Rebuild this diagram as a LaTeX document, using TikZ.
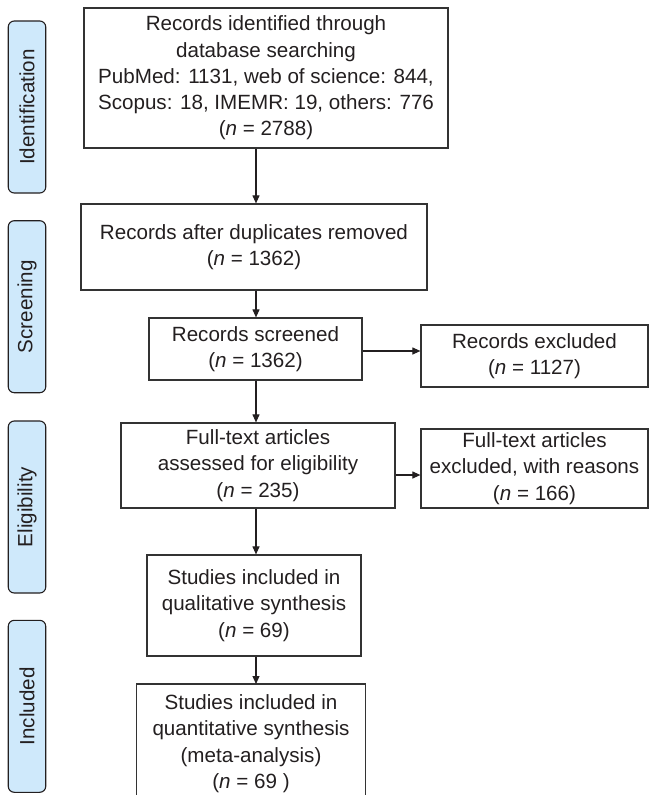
\documentclass[tikz,border=0pt]{standalone}
\usepackage{fontspec}
\setmainfont{Liberation Sans}
\usetikzlibrary{arrows.meta}
\definecolor{barfill}{HTML}{CFE9FB}
\definecolor{ink}{HTML}{231F20}
\definecolor{edge}{HTML}{333333}
\begin{document}
\begin{tikzpicture}[x=1pt,y=-1pt,
  txt/.style={font=\fontsize{20.6}{26.3}\selectfont, text=ink, align=center, inner sep=0pt},
  flowbox/.style={txt, draw=edge, line width=1.2pt, anchor=center},
  stagebar/.style={txt, draw=ink, line width=1.1pt, fill=barfill, rounded corners=6pt,
    minimum width=172pt, minimum height=37.5pt, rotate=90, anchor=center},
  arr/.style={draw=ink, line width=1.1pt, -{Triangle[length=8pt,width=7pt]}}]
\useasboundingbox (0,0) rectangle (650,795);
% stage bars
\node[stagebar] (sid) at (27,107) {Identification};
\node[stagebar] (sscr) at (27,306.7) {Screening};
\node[stagebar] (selig) at (27,507) {Eligibility};
\node[stagebar] (sinc) at (27,706.3) {Included};
% flow boxes
\node[flowbox, minimum width=364pt, minimum height=140pt] (ident) at (266,78)
  {Records identified through\\database searching\\PubMed: 1131, web of science: 844,\\Scopus: 18, IMEMR: 19, others: 776\\(\textit{n} = 2788)};
\node[flowbox, minimum width=346pt, minimum height=86pt] (dup) at (254,247)
  {Records after duplicates removed\\(\textit{n} = 1362)};
\node[flowbox, minimum width=213pt, minimum height=62pt] (scr) at (255.5,349)
  {Records screened\\(\textit{n} = 1362)};
\node[flowbox, minimum width=227pt, minimum height=62pt] (exc1) at (534.5,356)
  {Records excluded\\(\textit{n} = 1127)};
\node[flowbox, minimum width=274pt, minimum height=85pt] (full) at (258,465.5)
  {Full-text articles\\assessed for eligibility\\(\textit{n} = 235)};
\node[flowbox, minimum width=227pt, minimum height=79pt] (exc2) at (534.5,468.5)
  {Full-text articles\\excluded, with reasons\\(\textit{n} = 166)};
\node[flowbox, minimum width=214pt, minimum height=101pt] (qual) at (254,605.5)
  {Studies included in\\qualitative synthesis\\(\textit{n} = 69)};
\node[txt, minimum width=228pt, minimum height=119pt, anchor=north] (quant) at (251,684)
  {Studies included in\\quantitative synthesis\\(meta-analysis)\\(\textit{n} = 69 )};
\draw[draw=edge, line width=1.2pt] (quant.south west) -- (quant.north west) -- (quant.north east) -- (quant.south east);
% connectors
\coordinate (ax) at (256,0);
\draw[arr] (ident.south -| ax) -- (dup.north -| ax);
\draw[arr] (dup.south -| ax) -- (scr.north -| ax);
\draw[arr] (scr.south -| ax) -- (full.north -| ax);
\draw[arr] (full.south -| ax) -- (qual.north -| ax);
\draw[arr] (qual.south -| ax) -- (quant.north -| ax);
\draw[arr] (scr.east |- 0,351) -- (exc1.west |- 0,351);
\draw[arr] (full.east |- 0,475) -- (exc2.west |- 0,475);
\end{tikzpicture}
\end{document}
